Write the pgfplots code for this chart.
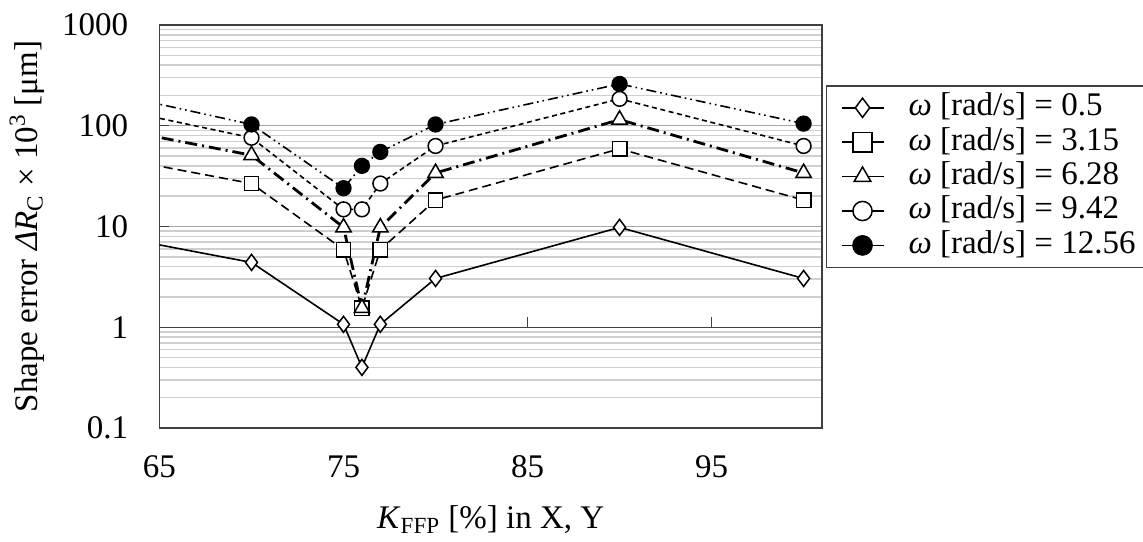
\documentclass[border=0pt]{standalone}
\usepackage{fontspec}
\setmainfont{Liberation Serif}
\usepackage{pgfplots}
\pgfplotsset{compat=1.18}
\definecolor{framec}{HTML}{404040}
\definecolor{majg}{HTML}{A6A6A6}
\definecolor{ming}{HTML}{CFCFCF}
\begin{document}
\fontsize{16.5}{20}\selectfont
\begin{tikzpicture}
\begin{axis}[
  at={(0,0)}, anchor=south west,
  scale only axis, width=331.25pt, height=201.5pt,
  ymode=log, xmin=65, xmax=101, ymin=0.1, ymax=1000,
  clip=true,
  axis line style={draw=framec, line width=0.75pt},
  /pgf/number format/assume math mode=true,
  ytick={0.1,1,10,100,1000}, yticklabels={0.1,1,10,100,1000},
  minor ytick={0.2,0.3,0.4,0.5,0.6,0.7,0.8,0.9,2,3,4,5,6,7,8,9,20,30,40,50,60,70,80,90,200,300,400,500,600,700,800,900},
  xtick={65,75,85,95}, xticklabels={65,75,85,95},
  ymajorgrids=true, yminorgrids=true,
  major grid style={draw=majg, line width=0.75pt},
  minor grid style={draw=ming, line width=0.75pt},
  ytick pos=left, tick align=inside,
  major tick length=5pt, minor tick length=0pt,
  ytick style={draw=framec, line width=0.75pt},
  xtick style={draw=none},
  yticklabel style={xshift=-10pt, font=\fontsize{16.5}{20}\selectfont},
  xticklabel style={yshift=-8pt, font=\fontsize{16.5}{20}\selectfont},
  xlabel={\textit{K}\textsubscript{FFP} [\%] in X, Y},
  ylabel={Shape error \textit{ΔR}\textsubscript{C} × 10\textsuperscript{3} [μm]},
  xlabel style={at={(axis description cs:0.5,-0.228)}, anchor=center, font=\fontsize{16.5}{20}\selectfont},
  ylabel style={at={(axis description cs:-0.2,0.5)}, anchor=center, rotate=0, font=\fontsize{16.5}{20}\selectfont},
  legend style={at={(axis description cs:1.006,0.851)}, anchor=north west,
    draw=framec, line width=0.75pt, fill=white,
    font=\fontsize{16.5}{20}\selectfont,
    inner sep=2.4pt,
    nodes={inner ysep=0.6pt, inner xsep=1.5pt, text height=12pt, text depth=4pt}},
  legend cell align=left,
  legend image code/.code={
    \path[draw=none, fill=none] (-5pt,0pt) -- (32pt,0pt);
    \draw[solid, line width=0.75pt] (0pt,0pt) -- (21pt,0pt);
    \draw[solid, line width=0.75pt, mark size=4.8pt] plot coordinates {(10.5pt,0pt)};
  },
]
% axis crossing at y=1
\draw[framec, line width=0.75pt] (axis cs:65,1) -- (axis cs:101,1);
\foreach \xx in {75,85,95} {\edef\tmp{\noexpand\draw[framec, line width=0.75pt] (axis cs:\xx,1) -- ++(0pt,5pt);}\tmp}

\addplot[black, line width=0.8pt, solid, mark=diamond*, mark size=4pt, mark options={solid, fill=white, line width=0.75pt}]
 coordinates {(60,9.8)(70,4.4)(75,1.07)(76,0.40)(77,1.07)(80,3.05)(90,9.8)(100,3.05)};
\addlegendentry{\textit{ω} [rad/s] = 0.5}

\addplot[black, line width=0.8pt, dash pattern=on 4.5pt off 2.5pt, mark=square*, mark size=3.6pt, mark options={solid, fill=white, line width=0.75pt}]
 coordinates {(60,59)(70,26.7)(75,5.9)(76,1.55)(77,5.9)(80,18.3)(90,59)(100,18.3)};
\addlegendentry{\textit{ω} [rad/s] = 3.15}

\addplot[black, line width=1.4pt, dash pattern=on 6pt off 2.5pt on 1pt off 2.5pt, mark=triangle*, mark size=4.4pt, mark options={solid, fill=white, line width=0.75pt}]
 coordinates {(60,115)(70,51)(75,9.8)(76,1.55)(77,9.8)(80,34)(90,115)(100,34)};
\addlegendentry{\textit{ω} [rad/s] = 6.28}

\addplot[black, line width=0.8pt, dash pattern=on 2.5pt off 1.8pt, mark=*, mark size=3.7pt, mark options={solid, fill=white, line width=0.75pt}]
 coordinates {(60,185)(70,76)(75,14.8)(76,14.8)(77,26.7)(80,63)(90,185)(100,63)};
\addlegendentry{\textit{ω} [rad/s] = 9.42}

\addplot[black, line width=0.8pt, dash pattern=on 5pt off 2pt on 0.8pt off 2pt on 0.8pt off 2pt, mark=*, mark size=3.7pt, mark options={solid, fill=black, line width=0.75pt}]
 coordinates {(60,260)(70,103)(75,24)(76,40)(77,55)(80,103)(90,260)(100,105)};
\addlegendentry{\textit{ω} [rad/s] = 12.56}
\end{axis}
\pgfresetboundingbox
\path[use as bounding box] (-79.75pt,-56.5pt) rectangle (491.75pt,214pt);
\end{tikzpicture}
\end{document}
